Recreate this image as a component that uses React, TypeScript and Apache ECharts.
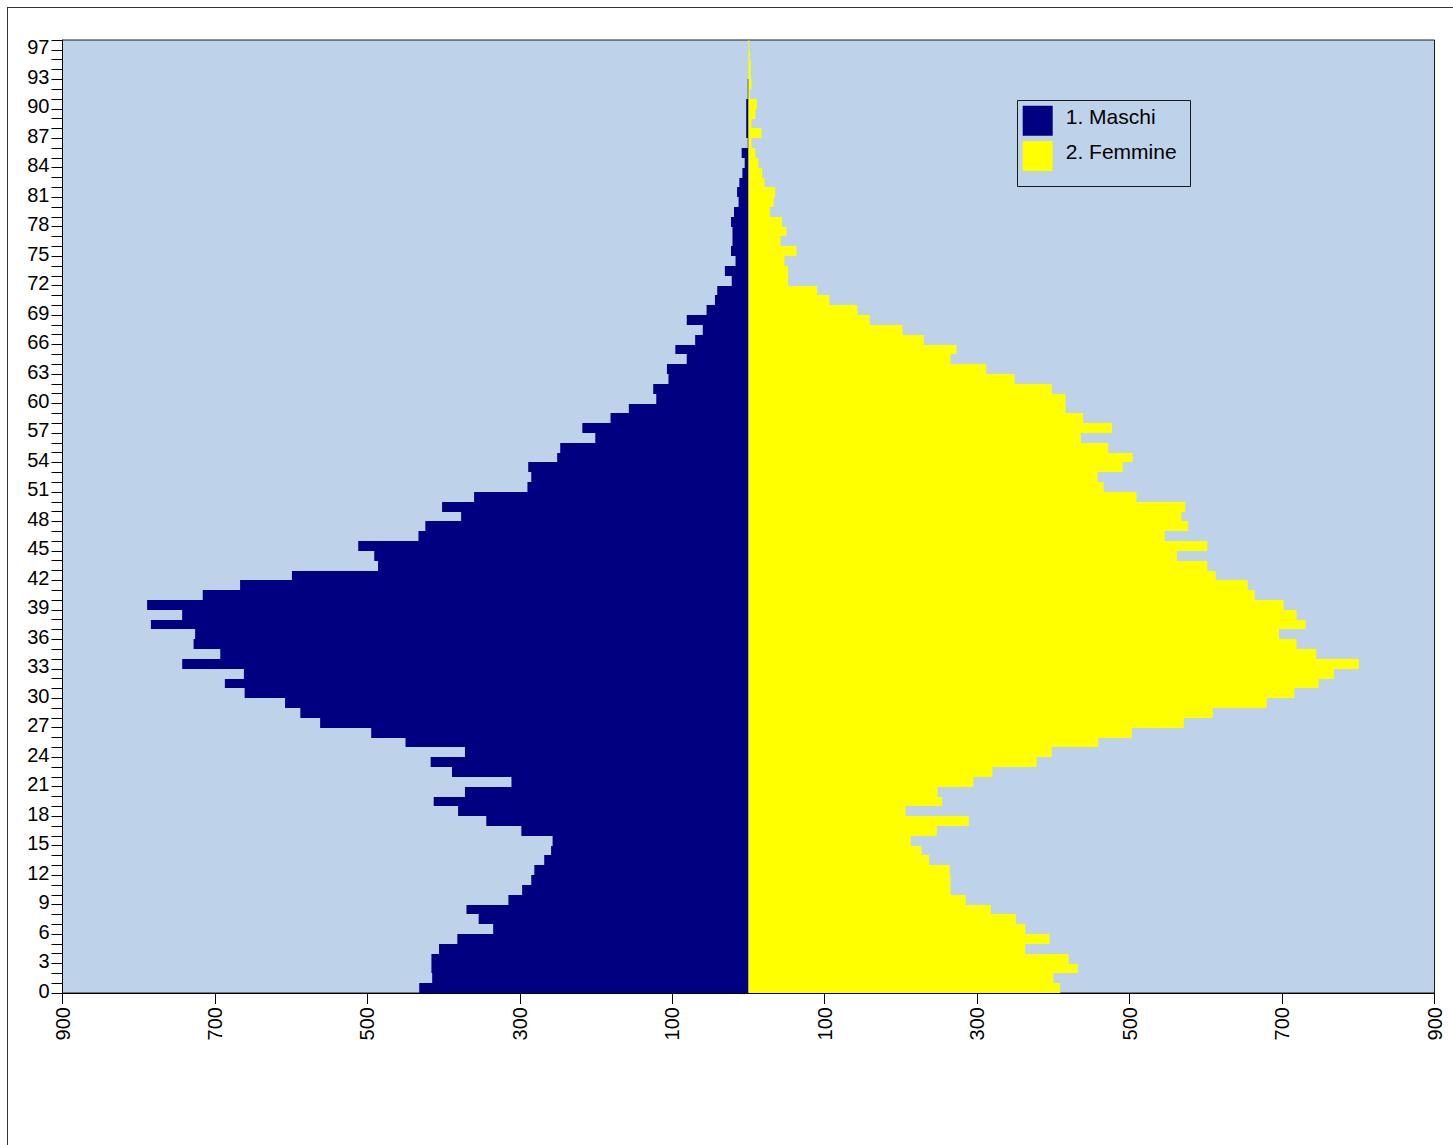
import React, { useEffect, useRef } from "react";
import * as echarts from "echarts";

const ages: number[] = Array.from({ length: 97 }, (_, i) => i);

const maschi: number[] = [
  432, 415, 416, 416, 406, 382, 335, 354, 370, 315,
  297, 285, 281, 268, 259, 257, 298, 344, 381, 413,
  372, 311, 389, 417, 372, 450, 495, 562, 588, 608,
  661, 687, 662, 743, 693, 728, 726, 784, 743, 789,
  716, 667, 599, 486, 491, 512, 433, 424, 377, 402,
  360, 290, 285, 289, 251, 247, 201, 218, 181, 157,
  121, 125, 105, 107, 81, 96, 70, 60, 81, 55,
  44, 41, 22, 31, 17, 23, 21, 21, 23, 19,
  13, 15, 12, 8, 5, 9, 1, 3, 3, 3,
  3, 1, 1, 0, 0, 0, 0,
];

const femmine: number[] = [
  409, 400, 432, 420, 363, 395, 363, 351, 318, 285,
  265, 265, 264, 237, 227, 213, 247, 289, 206, 254,
  248, 295, 320, 378, 398, 459, 503, 571, 609, 680,
  716, 748, 768, 801, 745, 719, 696, 731, 719, 702,
  664, 655, 613, 602, 562, 602, 546, 577, 568, 573,
  509, 466, 458, 491, 504, 472, 436, 477, 439, 416,
  416, 398, 349, 312, 265, 273, 230, 202, 159, 143,
  106, 90, 52, 52, 47, 63, 42, 50, 44, 28,
  33, 35, 21, 18, 13, 9, 4, 17, 4, 9,
  11, 2, 4, 3, 3, 2, 1,
];

const yLabelValues: number[] = [0, 3, 6, 9, 12, 15, 18, 21, 24, 27, 30, 33, 36, 39, 42, 45, 48, 51, 54, 57, 60, 63, 66, 69, 72, 75, 78, 81, 84, 87, 90, 93, 97];
const xTickValues: number[] = [-900, -700, -500, -300, -100, 100, 300, 500, 700, 900];

const seriesNames = ["1. Maschi", "2. Femmine"];
const COLORS = ["#000080", "#FFFF00"];
const FONT = "'Liberation Sans', Arial, Helvetica, sans-serif";

function makeRender(sign: number, color: string) {
  return (params: any, api: any) => {
    const age = api.value(0);
    const v = api.value(1);
    const pOuter = api.coord([sign * v, age + 1]);
    const pInner = api.coord([0, age]);
    const x = Math.min(pOuter[0], pInner[0]);
    const w = Math.abs(pInner[0] - pOuter[0]);
    const y0 = Math.round(pOuter[1]);
    const y1 = Math.round(pInner[1]);
    return {
      type: "rect",
      shape: { x, y: y0, width: w, height: y1 - y0 },
      style: { fill: color },
    };
  };
}

export default function App() {
  const ref = useRef<HTMLDivElement>(null);
  useEffect(() => {
    if (!ref.current) return;
    const chart = echarts.init(ref.current, undefined, { renderer: "svg" });
    chart.setOption({
      animation: false,
      backgroundColor: "#ffffff",
      grid: {
        left: 54.5,
        right: 18.5,
        top: 32,
        bottom: 152,
        show: true,
        backgroundColor: "#BED3E9",
        borderColor: "#1a1a1a",
        borderWidth: 1,
      },
      graphic: [
        {
          type: "group",
          x: 1009,
          y: 92,
          children: [
            {
              type: "rect",
              shape: { x: 0.5, y: 0.5, width: 173, height: 86 },
              style: { fill: "none", stroke: "#1a1a1a", lineWidth: 1 },
            },
            {
              type: "rect",
              shape: { x: 5.7, y: 5.7, width: 30, height: 30 },
              style: { fill: COLORS[0] },
            },
            {
              type: "rect",
              shape: { x: 5.7, y: 41, width: 30, height: 30 },
              style: { fill: COLORS[1] },
            },
            {
              type: "text",
              x: 48.7,
              y: 16.7,
              style: {
                text: seriesNames[0],
                fontSize: 21,
                fontFamily: FONT,
                fill: "#000",
                verticalAlign: "middle",
                align: "left",
              },
            },
            {
              type: "text",
              x: 48.7,
              y: 51.8,
              style: {
                text: seriesNames[1],
                fontSize: 21,
                fontFamily: FONT,
                fill: "#000",
                verticalAlign: "middle",
                align: "left",
              },
            },
          ],
        },
      ],
      xAxis: {
        type: "value",
        min: -900,
        max: 900,
        axisLine: { show: true, onZero: false, lineStyle: { color: "#000", width: 1 } },
        axisTick: {
          show: true,
          length: 11,
          customValues: xTickValues,
          lineStyle: { color: "#000" },
        },
        axisLabel: {
          customValues: xTickValues,
          rotate: 90,
          margin: 14,
          fontSize: 20,
          fontFamily: FONT,
          color: "#000",
          formatter: (v: number) => String(Math.abs(v)),
        },
        splitLine: { show: false },
      },
      yAxis: {
        type: "value",
        min: 0,
        max: 97,
        interval: 1,
        axisLine: { show: true, onZero: false, lineStyle: { color: "#000", width: 1 } },
        axisTick: { show: true, length: 11, lineStyle: { color: "#000" } },
        axisLabel: {
          customValues: yLabelValues,
          margin: 13,
          fontSize: 20,
          fontFamily: FONT,
          color: "#000",
          formatter: (v: number) => (v === 97 ? "{b|97}" : "{a|" + v + "}"),
          rich: {
            a: { fontSize: 20, fontFamily: FONT, color: "#000", padding: [0, 0, 5, 0] },
            b: { fontSize: 20, fontFamily: FONT, color: "#000", padding: [13, 0, 0, 0] },
          },
        },
        splitLine: { show: false },
      },
      series: [
        {
          name: seriesNames[0],
          type: "custom",
          itemStyle: { color: COLORS[0] },
          renderItem: makeRender(-1, COLORS[0]),
          encode: { x: 1, y: 0 },
          data: ages.map((a, i) => [a, maschi[i]]),
        },
        {
          name: seriesNames[1],
          type: "custom",
          itemStyle: { color: COLORS[1] },
          renderItem: makeRender(1, COLORS[1]),
          encode: { x: 1, y: 0 },
          data: ages.map((a, i) => [a, femmine[i]]),
        },
      ],
    });
    return () => chart.dispose();
  }, []);

  return (
    <div
      style={{
        position: "absolute",
        left: 7,
        top: 7,
        width: 1446,
        height: 1138,
        borderTop: "1px solid #333",
        borderLeft: "1px solid #333",
        overflow: "hidden",
      }}
    >
      <div ref={ref} style={{ width: 1445, height: 1137 }} />
    </div>
  );
}
